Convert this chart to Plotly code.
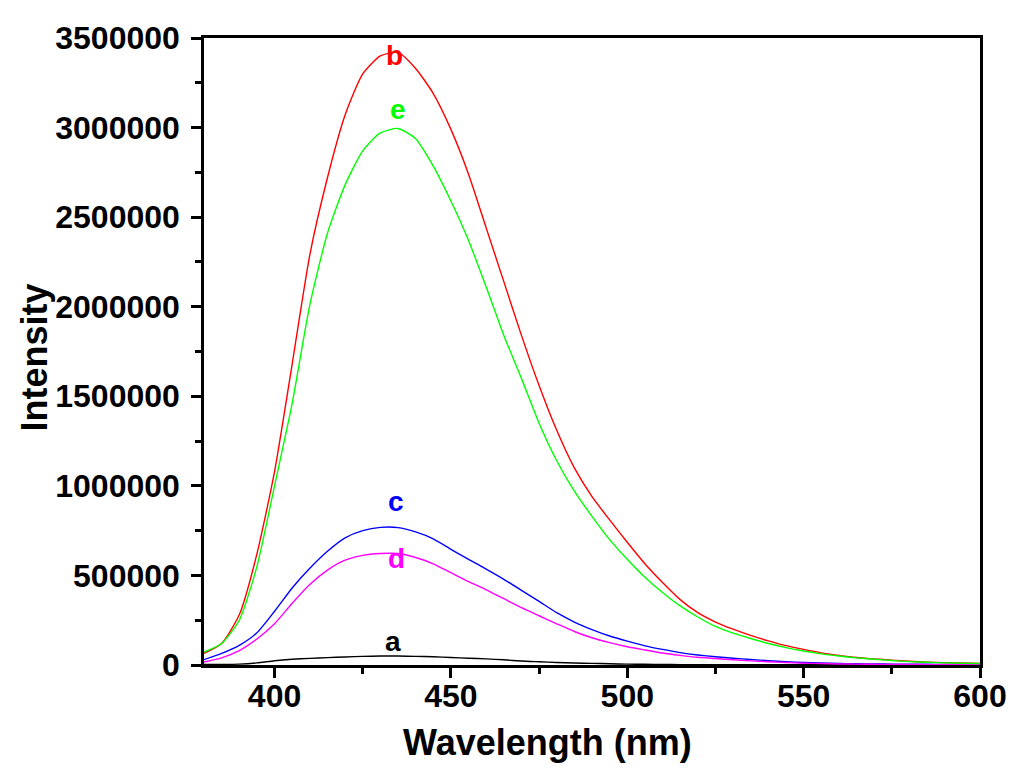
import plotly.graph_objects as go

# wavelength grid (nm) and intensities
wavelength = [380, 385, 390, 395, 400, 405, 410, 415, 420, 425, 430, 435, 440, 445, 450,
              455, 460, 465, 470, 475, 480, 485, 490, 495, 500, 505, 510, 515, 520, 525,
              530, 535, 540, 545, 550, 555, 560, 565, 570, 575, 580, 585, 590, 595, 600]

int_a = [3000, 3000, 5000, 12000, 24000, 32000, 37000, 41000, 45000, 48000, 50000, 50000,
         48000, 46000, 42000, 38000, 34000, 29000, 22000, 18000, 14000, 11000, 9000, 7000,
         5000, 4000, 3000, 2000, 2000, 1500, 1500, 1000, 1000, 1000, 1000, 1000, 1000, 1000,
         1000, 1000, 1000, 1000, 1000, 1000, 1000]

int_b = [65000, 120000, 280000, 620000, 1080000, 1680000, 2290000, 2720000, 3070000, 3300000,
         3400000, 3420000, 3330000, 3190000, 2990000, 2740000, 2440000, 2140000, 1840000,
         1560000, 1310000, 1100000, 940000, 810000, 685000, 565000, 460000, 365000, 292000,
         240000, 200000, 165000, 135000, 108000, 87000, 68000, 54000, 42000, 34000, 27000,
         21000, 16000, 13000, 11000, 9000]

int_c = [30000, 65000, 110000, 180000, 300000, 430000, 540000, 635000, 710000, 750000,
         768000, 767000, 743000, 704000, 646000, 590000, 535000, 478000, 417000, 355000,
         292000, 240000, 198000, 162000, 133000, 107000, 87000, 69000, 56000, 46000, 38000,
         31000, 24000, 18000, 14000, 11000, 9000, 7000, 6000, 5000, 4000, 4000, 3000, 3000,
         3000]

int_d = [17000, 40000, 80000, 145000, 230000, 345000, 450000, 530000, 585000, 612000,
         622000, 622000, 600000, 565000, 515000, 465000, 420000, 370000, 320000, 275000,
         230000, 187000, 152000, 125000, 102000, 84000, 67000, 54000, 43000, 36000, 29000,
         23000, 18000, 14000, 10000, 8000, 6000, 5000, 4000, 3000, 3000, 2000, 2000, 2000,
         2000]

int_e = [72000, 120000, 250000, 550000, 1000000, 1460000, 2010000, 2410000, 2680000, 2870000,
         2970000, 2995000, 2938000, 2785000, 2590000, 2370000, 2110000, 1840000, 1600000,
         1350000, 1140000, 970000, 830000, 700000, 590000, 490000, 405000, 330000, 268000,
         215000, 178000, 148000, 120000, 97000, 78000, 62000, 50000, 40000, 32000, 25000,
         19000, 15000, 12000, 10000, 8000]

curve_names = ['a', 'b', 'c', 'd', 'e']
curve_colors = ['#000000', '#FF0000', '#0000FF', '#FF00FF', '#00FF00']
curve_data = [int_a, int_b, int_c, int_d, int_e]

# label positions next to each peak
label_x = [433.6, 434.0, 434.5, 434.5, 435.0]
label_y = [129000, 3400000, 910000, 593000, 3100000]

font_family = 'Arial, Liberation Sans, sans-serif'

fig = go.Figure()
for name, color, vals in zip(curve_names, curve_colors, curve_data):
    fig.add_trace(go.Scatter(x=wavelength, y=vals, mode='lines', name=name,
                             line=dict(color=color, width=1.4, shape='spline', smoothing=0.6)))

for name, color, lx, ly in zip(curve_names, curve_colors, label_x, label_y):
    fig.add_annotation(x=lx, y=ly, text=name, showarrow=False,
                       font=dict(family=font_family, size=28, color=color, weight='bold'),
                       xanchor='center', yanchor='middle')

# axis titles placed as in the original figure
fig.add_annotation(x=0.443, y=-0.124, xref='paper', yref='paper', text='Wavelength (nm)',
                   showarrow=False, xanchor='center', yanchor='middle',
                   font=dict(family=font_family, size=36, color='black', weight='bold'))
fig.add_annotation(x=-0.218, y=0.49, xref='paper', yref='paper', text='Intensity',
                   showarrow=False, xanchor='center', yanchor='middle', textangle=-90,
                   font=dict(family=font_family, size=36, color='black', weight='bold'))

axis_style = dict(showline=True, linecolor='black', linewidth=2.5, mirror=True,
                  ticks='outside', ticklen=10, tickwidth=2.5, tickcolor='black',
                  showgrid=False, zeroline=False,
                  tickfont=dict(family=font_family, size=32, color='black', weight='bold'))

fig.update_xaxes(range=[380, 600], tickvals=[400, 450, 500, 550, 600], ticklabelstandoff=-9,
                 minor=dict(ticks='outside', ticklen=6, tickwidth=2.5, tickcolor='black', dtick=25, tick0=375),
                 **axis_style)
fig.update_yaxes(range=[0, 3500000], dtick=500000, tickformat='d', ticklabelstandoff=5,
                 minor=dict(ticks='outside', ticklen=6, tickwidth=2.5, tickcolor='black', dtick=250000),
                 **axis_style)

fig.update_layout(width=1024, height=783, showlegend=False,
                  plot_bgcolor='white', paper_bgcolor='white',
                  margin=dict(l=196, r=52, t=27, b=126))

fig.write_html("out.html")
